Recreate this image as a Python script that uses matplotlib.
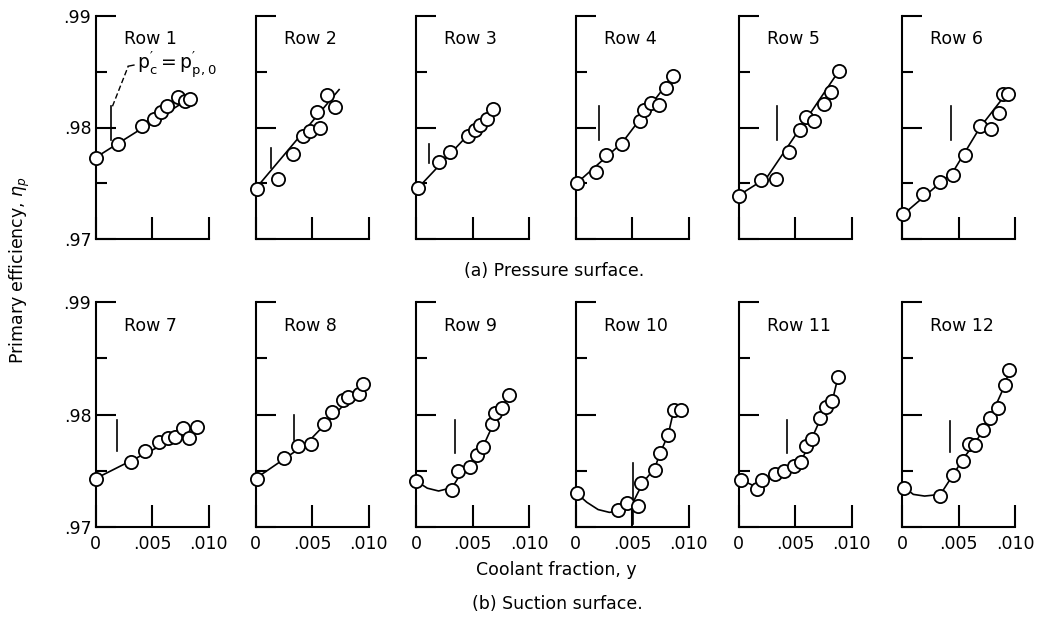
import matplotlib
matplotlib.use("Agg")
import matplotlib.pyplot as plt
from matplotlib.ticker import FixedLocator, FixedFormatter

plt.rcParams['font.family'] = ['DejaVu Sans']
plt.rcParams['mathtext.fontset'] = 'dejavusans'

# ---------------- data ----------------
row_labels = ["Row 1", "Row 2", "Row 3", "Row 4", "Row 5", "Row 6",
              "Row 7", "Row 8", "Row 9", "Row 10", "Row 11", "Row 12"]

# measured points (coolant fraction y, primary efficiency)
x1 = [0.0000, 0.0020, 0.0041, 0.0052, 0.0058, 0.0063, 0.0073, 0.0079, 0.0084]
y1 = [0.9773, 0.9785, 0.9801, 0.9808, 0.9814, 0.9819, 0.9827, 0.9824, 0.9826]
x2 = [0.0001, 0.0020, 0.0033, 0.0042, 0.0048, 0.0057, 0.0054, 0.0063, 0.0070]
y2 = [0.9745, 0.9754, 0.9776, 0.9792, 0.9797, 0.9800, 0.9814, 0.9829, 0.9818]
x3 = [0.0002, 0.0020, 0.0030, 0.0046, 0.0052, 0.0057, 0.0063, 0.0068]
y3 = [0.9746, 0.9769, 0.9778, 0.9792, 0.9798, 0.9802, 0.9808, 0.9817]
x4 = [0.0001, 0.0018, 0.0027, 0.0041, 0.0057, 0.0061, 0.0067, 0.0074, 0.0080, 0.0086]
y4 = [0.9750, 0.9760, 0.9775, 0.9785, 0.9806, 0.9816, 0.9822, 0.9820, 0.9835, 0.9846]
x5 = [0.0000, 0.0020, 0.0033, 0.0045, 0.0054, 0.0060, 0.0067, 0.0076, 0.0082, 0.0089]
y5 = [0.9739, 0.9753, 0.9754, 0.9778, 0.9798, 0.9809, 0.9806, 0.9821, 0.9832, 0.9851]
x6 = [0.0001, 0.0019, 0.0034, 0.0045, 0.0056, 0.0069, 0.0079, 0.0086, 0.0089, 0.0094]
y6 = [0.9722, 0.9740, 0.9751, 0.9757, 0.9775, 0.9801, 0.9799, 0.9813, 0.9830, 0.9830]
x7 = [0.0000, 0.0031, 0.0044, 0.0056, 0.0064, 0.0070, 0.0077, 0.0083, 0.0090]
y7 = [0.9743, 0.9758, 0.9768, 0.9776, 0.9779, 0.9780, 0.9788, 0.9779, 0.9789]
x8 = [0.0001, 0.0025, 0.0038, 0.0049, 0.0061, 0.0068, 0.0077, 0.0082, 0.0092, 0.0095]
y8 = [0.9743, 0.9761, 0.9772, 0.9774, 0.9792, 0.9802, 0.9813, 0.9816, 0.9818, 0.9827]
x9 = [0.0000, 0.0032, 0.0037, 0.0048, 0.0054, 0.0059, 0.0067, 0.0070, 0.0076, 0.0082]
y9 = [0.9741, 0.9733, 0.9750, 0.9753, 0.9764, 0.9771, 0.9792, 0.9801, 0.9806, 0.9817]
x10 = [0.0001, 0.0038, 0.0046, 0.0055, 0.0058, 0.0070, 0.0075, 0.0082, 0.0087, 0.0093]
y10 = [0.9730, 0.9715, 0.9721, 0.9719, 0.9739, 0.9751, 0.9766, 0.9782, 0.9804, 0.9804]
x11 = [0.0002, 0.0016, 0.0021, 0.0032, 0.0040, 0.0049, 0.0055, 0.0060, 0.0065, 0.0072, 0.0077, 0.0083, 0.0088]
y11 = [0.9742, 0.9734, 0.9742, 0.9747, 0.9750, 0.9754, 0.9758, 0.9772, 0.9778, 0.9797, 0.9807, 0.9812, 0.9833]
x12 = [0.0002, 0.0034, 0.0045, 0.0054, 0.0059, 0.0065, 0.0072, 0.0078, 0.0085, 0.0091, 0.0095]
y12 = [0.9735, 0.9728, 0.9746, 0.9759, 0.9774, 0.9773, 0.9786, 0.9797, 0.9806, 0.9826, 0.9840]

# faired curves (nodes)
fx1 = [0.0000, 0.0084];  fy1 = [0.9773, 0.98265]
fx2 = [0.0000, 0.0074];  fy2 = [0.9745, 0.9834]
fx3 = [0.0002, 0.0068];  fy3 = [0.9746, 0.9817]
fx4 = [0.0001, 0.0041, 0.0086];  fy4 = [0.9750, 0.9786, 0.9846]
fx5 = [0.0000, 0.0025, 0.0089];  fy5 = [0.9739, 0.9755, 0.9851]
fx6 = [0.0001, 0.0045, 0.0069, 0.0092];  fy6 = [0.9722, 0.9760, 0.9800, 0.9830]
fx7 = [0.0000, 0.0081];  fy7 = [0.9743, 0.9784]
fx8 = [0.0000, 0.0045, 0.0093];  fy8 = [0.9743, 0.9774, 0.9824]
fx9 = [0.0000, 0.0010, 0.0020, 0.0032, 0.0040, 0.0050, 0.0060, 0.0070, 0.0082]
fy9 = [0.9741, 0.97345, 0.9732, 0.9735, 0.9748, 0.9758, 0.9773, 0.9795, 0.9817]
fx10 = [0.0001, 0.0010, 0.0020, 0.0030, 0.0040, 0.0050, 0.0060, 0.0070, 0.0075, 0.0082, 0.0087]
fy10 = [0.9730, 0.9722, 0.97155, 0.9713, 0.97145, 0.9720, 0.9740, 0.9752, 0.9766, 0.9782, 0.9804]
fx11 = [0.0002, 0.0015, 0.0030, 0.0045, 0.0055, 0.0062, 0.0072, 0.0083, 0.0088]
fy11 = [0.9742, 0.9736, 0.97445, 0.9752, 0.9758, 0.9772, 0.9795, 0.9812, 0.9833]
fx12 = [0.0002, 0.0010, 0.0020, 0.0034, 0.0045, 0.0055, 0.0065, 0.0078, 0.0091, 0.0095]
fy12 = [0.97353, 0.9729, 0.97275, 0.9729, 0.9746, 0.9762, 0.9775, 0.9797, 0.9826, 0.9840]

# short vertical markers where p'c = p'p,0
mark_x  = [0.00133, 0.00139, 0.00118, 0.00206, 0.00342, 0.00433,
           0.00186, 0.00338, 0.00347, 0.00506, 0.00427, 0.00427]
mark_y0 = [0.9789, 0.9764, 0.9768, 0.9789, 0.9789, 0.9789,
           0.9768, 0.9777, 0.9766, 0.9703, 0.9766, 0.9767]
mark_y1 = [0.9819, 0.9782, 0.9785, 0.9819, 0.9819, 0.9819,
           0.9795, 0.9800, 0.9795, 0.9757, 0.9795, 0.9794]

# leader line to the label in the first panel
leader_x = [0.0015, 0.0029, 0.0034]
leader_y = [0.9819, 0.9855, 0.9856]

ymajor = [0.97, 0.98, 0.99]
yminor = [0.975, 0.985]
ytick_labels = ['.97', '.98', '.99']
xticks = [0.0, 0.005, 0.010]
xtick_labels = ['0', '.005', '.010']

xs = [x1, x2, x3, x4, x5, x6, x7, x8, x9, x10, x11, x12]
ys = [y1, y2, y3, y4, y5, y6, y7, y8, y9, y10, y11, y12]
fxs = [fx1, fx2, fx3, fx4, fx5, fx6, fx7, fx8, fx9, fx10, fx11, fx12]
fys = [fy1, fy2, fy3, fy4, fy5, fy6, fy7, fy8, fy9, fy10, fy11, fy12]

# ---------------- layout ----------------
W, H = 1039, 620
fig = plt.figure(figsize=(W / 100, H / 100), dpi=100)
fig.patch.set_facecolor('white')

col_left = [95.5, 255.5, 416, 575.5, 738.5, 902]
panel_w = 113
row_top = [16, 302]
row_bot = [239, 527]

for i in range(12):
    r, c = divmod(i, 6)
    left = col_left[c] / W
    bottom = 1 - row_bot[r] / H
    height = (row_bot[r] - row_top[r]) / H
    ax = fig.add_axes([left, bottom, panel_w / W, height])
    ax.set_xlim(0, 0.010)
    ax.set_ylim(0.97, 0.99)
    for s in ['top', 'right']:
        ax.spines[s].set_visible(False)
    for s in ['left', 'bottom']:
        ax.spines[s].set_linewidth(1.5)
    ax.yaxis.set_major_locator(FixedLocator(ymajor))
    ax.yaxis.set_minor_locator(FixedLocator(yminor))
    ax.xaxis.set_major_locator(FixedLocator(xticks))
    ax.tick_params(axis='y', which='major', direction='in', length=14.5, width=1.5)
    ax.tick_params(axis='y', which='minor', direction='in', length=8, width=1.5)
    ax.tick_params(axis='x', which='major', direction='in', length=16, width=1.5)
    if c == 0:
        ax.yaxis.set_major_formatter(FixedFormatter(ytick_labels))
        ax.tick_params(axis='y', labelsize=12.5, pad=3)
    else:
        ax.set_yticklabels([])
    if r == 1:
        ax.xaxis.set_major_formatter(FixedFormatter(xtick_labels))
        ax.tick_params(axis='x', labelsize=12.5, pad=6)
    else:
        ax.set_xticklabels([])

    ax.plot(fxs[i], fys[i], color='black', lw=1.2, clip_on=False, zorder=2)
    ax.plot(xs[i], ys[i], 'o', ms=9.5, mfc='white', mec='black', mew=1.3,
            clip_on=False, zorder=3)
    ax.plot([mark_x[i], mark_x[i]], [mark_y0[i], mark_y1[i]], color='black',
            lw=1.2, clip_on=False)
    ax.text(0.0025, 0.9879, row_labels[i], fontsize=12.5, ha='left', va='center')

    if i == 0:
        ax.plot(leader_x[:2], leader_y[:2], color='black', lw=1.0, ls=(0, (4, 2)),
                clip_on=False)
        ax.plot(leader_x[1:], leader_y[1:], color='black', lw=1.0, clip_on=False)
        ax.text(0.0037, 0.9856, r"$\mathregular{p_c' = p_{p,0}'}$", fontsize=13.5,
                ha='left', va='center', clip_on=False)

fig.text(20 / W, 1 - 270 / H, r"Primary efficiency, $\eta_p$", rotation=90,
         ha='center', va='center', fontsize=12.5)
fig.text(554 / W, 1 - 271 / H, "(a) Pressure surface.", ha='center', va='center',
         fontsize=12.5)
fig.text(556 / W, 1 - 570 / H, "Coolant fraction, y", ha='center', va='center',
         fontsize=12.5)
fig.text(557 / W, 1 - 604 / H, "(b) Suction surface.", ha='center', va='center',
         fontsize=12.5)

fig.savefig("out.png", dpi=100, facecolor='white')
